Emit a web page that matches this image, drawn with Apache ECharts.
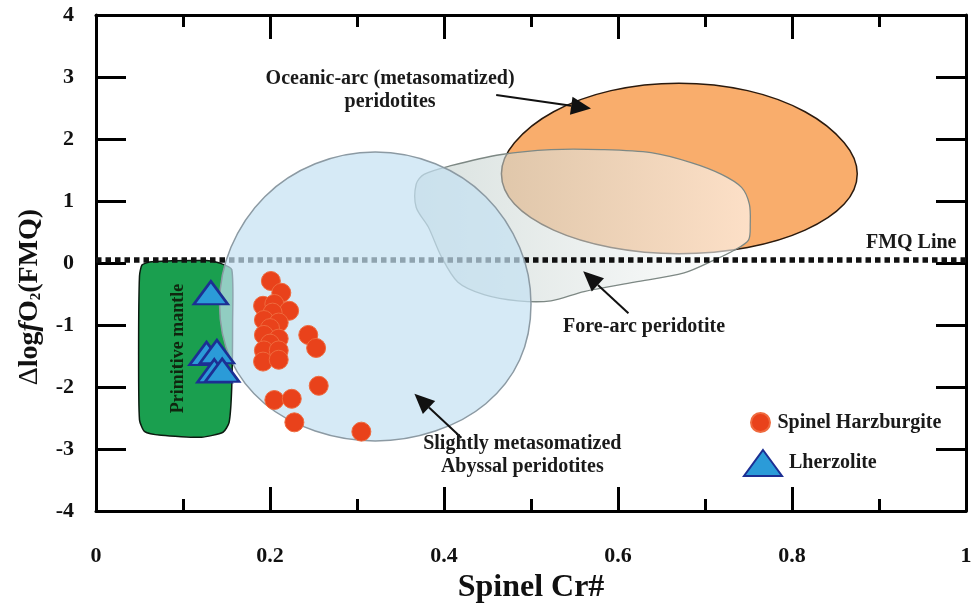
<!DOCTYPE html>
<html>
<head>
<meta charset="utf-8">
<script src="https://cdn.jsdelivr.net/npm/echarts/dist/echarts.min.js"></script>
<style>
html,body{margin:0;padding:0;background:#ffffff;}
#chart{width:977px;height:604px;}
</style>
</head>
<body>
<div id="chart"></div>
<script>
// ---------- data ----------
const xTicks = [0, 0.2, 0.4, 0.6, 0.8, 1];
const yTicks = [-4, -3, -2, -1, 0, 1, 2, 3, 4];

// Spinel Harzburgite samples [Cr#, ΔlogfO2]
const harzburgite = [
  [0.201,-0.29],[0.213,-0.48],[0.192,-0.69],[0.205,-0.66],[0.222,-0.77],[0.203,-0.80],
  [0.193,-0.92],[0.210,-0.96],[0.200,-1.05],[0.193,-1.16],[0.210,-1.22],[0.200,-1.30],
  [0.193,-1.41],[0.210,-1.41],[0.192,-1.59],[0.210,-1.56],[0.244,-1.16],[0.253,-1.37],
  [0.256,-1.98],[0.205,-2.21],[0.225,-2.19],[0.228,-2.57],[0.305,-2.72]
];
// Lherzolite samples
const lherzolite = [[0.132,-0.48],[0.127,-1.46],[0.139,-1.43],[0.136,-1.74],[0.145,-1.73]];

// Field outlines (vertices in data units)
const primitiveMantle = [
  [0.050,-0.21],[0.053,-0.03],[0.064,0.02],[0.127,0.04],[0.142,0.0],[0.156,-0.105],
  [0.157,-0.96],[0.156,-2.01],[0.153,-2.57],[0.146,-2.73],[0.121,-2.81],[0.075,-2.78],
  [0.056,-2.72],[0.050,-2.53],[0.049,-1.40]
];
const abyssalField = [
  [0.500,-0.66],[0.487,0.25],[0.448,1.07],[0.390,1.60],[0.321,1.79],[0.252,1.60],
  [0.194,1.07],[0.155,0.25],[0.142,-0.66],[0.155,-1.56],[0.194,-2.27],[0.252,-2.71],
  [0.321,-2.87],[0.390,-2.71],[0.448,-2.27],[0.487,-1.56]
];
const oceanicArcField = [
  [0.875,1.44],[0.860,1.94],[0.815,2.44],[0.749,2.78],[0.670,2.90],[0.592,2.78],
  [0.526,2.44],[0.481,1.94],[0.466,1.44],[0.481,0.95],[0.526,0.53],[0.592,0.25],
  [0.670,0.15],[0.749,0.25],[0.815,0.53],[0.860,0.95]
];
const foreArcField = [
  [0.377,1.43],[0.408,1.57],[0.466,1.75],[0.523,1.83],[0.581,1.83],[0.638,1.78],
  [0.684,1.62],[0.719,1.43],[0.742,1.22],[0.751,0.95],[0.752,0.63],[0.750,0.37],
  [0.734,0.21],[0.711,0.05],[0.676,-0.16],[0.619,-0.31],[0.561,-0.46],[0.523,-0.61],
  [0.485,-0.61],[0.446,-0.51],[0.416,-0.31],[0.397,0.10],[0.382,0.58],[0.368,0.90],
  [0.368,1.27]
];
// FMQ reference line
const fmqX = [0, 1];
const fmqY = [0.05, 0.05];

// Annotations
const noteTexts = ['Oceanic-arc (metasomatized)\nperidotites', 'Fore-arc peridotite',
  'Slightly metasomatized\nAbyssal peridotites', 'FMQ Line', 'Primitive mantle'];
const noteX = [0.338, 0.630, 0.490, 0.937, 0.095];
const noteY = [2.78, -1.03, -3.11, 0.33, -1.38];
const arrowFrom = [[0.460,2.71],[0.612,-0.81],[0.420,-2.82]];
const arrowTo = [[0.569,2.49],[0.560,-0.135],[0.366,-2.11]];

// ---------- chart ----------
const FONT = 'Liberation Serif';
const chart = echarts.init(document.getElementById('chart'), null, {renderer: 'canvas'});

function fieldSeries(name, verts, style, smooth, z) {
  return {
    type: 'custom', name: name, z: z, silent: true, clip: false,
    coordinateSystem: 'cartesian2d', xAxisIndex: 0, yAxisIndex: 0,
    data: verts, encode: {x: 0, y: 1},
    renderItem: function (params, api) {
      if (params.dataIndex !== 0) return null;
      const pts = verts.map(function (v) { return api.coord(v); });
      return {type: 'polygon', shape: {points: pts, smooth: smooth}, style: style};
    }
  };
}

const axisLineStyle = {color: '#000', width: 3};
const labelStyle = {fontSize: 22, fontWeight: 'bold', fontFamily: FONT, color: '#111'};

const option = {
  backgroundColor: '#ffffff',
  animation: false,
  grid: {left: 96, right: 11, top: 15, bottom: 93, containLabel: false, outerBoundsMode: 'none'},
  xAxis: [
    {
      type: 'value', min: 0, max: 1, interval: 0.2, position: 'bottom',
      axisLine: {show: true, onZero: false, lineStyle: axisLineStyle},
      axisTick: {show: true, inside: true, length: 24, lineStyle: {color: '#000', width: 3}},
      minorTick: {show: true, splitNumber: 2, length: 12, lineStyle: {color: '#000', width: 3}},
      splitLine: {show: false}, minorSplitLine: {show: false},
      axisLabel: Object.assign({margin: 34, showMinLabel: true, showMaxLabel: true,
        formatter: function (v) { return xTicks.indexOf(+v.toFixed(1)) >= 0 ? String(+v.toFixed(1)) : ''; }}, labelStyle),
      name: 'Spinel Cr#', nameLocation: 'middle', nameGap: 61,
      nameTextStyle: {fontSize: 32, fontWeight: 'bold', fontFamily: FONT, color: '#111'}
    },
    {
      type: 'value', min: 0, max: 1, interval: 0.2, position: 'top',
      axisLine: {show: true, onZero: false, lineStyle: axisLineStyle},
      axisTick: {show: true, inside: true, length: 24, lineStyle: {color: '#000', width: 3}},
      minorTick: {show: true, splitNumber: 2, length: 12, lineStyle: {color: '#000', width: 3}},
      splitLine: {show: false}, minorSplitLine: {show: false},
      axisLabel: {show: false}
    }
  ],
  yAxis: [
    {
      type: 'value', min: -4, max: 4, interval: 1, position: 'left',
      axisLine: {show: true, onZero: false, lineStyle: axisLineStyle},
      axisTick: {show: true, inside: true, length: 30, lineStyle: {color: '#000', width: 3}},
      splitLine: {show: false},
      axisLabel: Object.assign({margin: 22, showMinLabel: true, showMaxLabel: true,
        formatter: function (v) { return yTicks.indexOf(Math.round(v)) >= 0 ? String(Math.round(v)) : ''; }}, labelStyle),
      name: '{d|\u0394}{t|log}{f|f}{t|O}{s|2}{t|(FMQ)}',
      nameLocation: 'middle', nameRotate: 90, nameGap: 52,
      nameTextStyle: {
        padding: [0, 68, 0, 0],
        rich: {
          d: {fontSize: 28, fontWeight: 'normal', fontFamily: FONT, color: '#111'},
          t: {fontSize: 28, fontWeight: 'bold', fontFamily: FONT, color: '#111'},
          f: {fontSize: 28, fontWeight: 'bold', fontStyle: 'italic', fontFamily: FONT, color: '#111'},
          s: {fontSize: 15, fontWeight: 'bold', fontFamily: FONT, color: '#111', verticalAlign: 'bottom'}
        }
      }
    },
    {
      type: 'value', min: -4, max: 4, interval: 1, position: 'right',
      axisLine: {show: true, onZero: false, lineStyle: axisLineStyle},
      axisTick: {show: true, inside: true, length: 30, lineStyle: {color: '#000', width: 3}},
      splitLine: {show: false},
      axisLabel: {show: false}
    }
  ],
  legend: [
    {
      data: ['Spinel Harzburgite'], left: 745, top: 407, orient: 'vertical',
      itemWidth: 22, itemHeight: 19, selectedMode: false,
      textStyle: {fontSize: 20, fontWeight: 'bold', fontFamily: FONT, color: '#1a1a1a', padding: [0, 0, 0, 1]}
    },
    {
      data: ['Lherzolite'], left: 738, top: 444, orient: 'vertical',
      itemWidth: 38, itemHeight: 26, selectedMode: false,
      textStyle: {fontSize: 20, fontWeight: 'bold', fontFamily: FONT, color: '#1a1a1a', padding: [0, 0, 0, 2]}
    }
  ],
  series: [
    fieldSeries('Primitive mantle', primitiveMantle,
      {fill: '#1a9f4f', stroke: '#0b1a10', lineWidth: 1.5}, 0.2, 1),
    fieldSeries('Oceanic-arc', oceanicArcField,
      {fill: '#f9ad6c', stroke: '#2a1a0e', lineWidth: 1.5}, 0.35, 2),
    fieldSeries('Fore-arc', foreArcField,
      {fill: new echarts.graphic.LinearGradient(0, 0, 1, 0, [
        {offset: 0, color: 'rgba(190,204,200,0.58)'},
        {offset: 1, color: 'rgba(255,255,255,0.62)'}
      ]), stroke: '#7d8884', lineWidth: 1.3}, 0.3, 3),
    {
      type: 'line', name: 'FMQ', z: 4, silent: true, symbol: 'none',
      data: fmqX.map(function (x, i) { return [x, fmqY[i]]; }),
      lineStyle: {color: '#111', width: 5.5, type: [5.5, 4], cap: 'butt'}
    },
    fieldSeries('Abyssal', abyssalField,
      {fill: 'rgba(197,225,242,0.7)', stroke: '#8c9aa3', lineWidth: 1.5}, 0.35, 5),
    {
      type: 'custom', name: 'arrows', z: 6, silent: true, clip: false,
      data: arrowFrom.map(function (f, i) { return [f[0], f[1], arrowTo[i][0], arrowTo[i][1]]; }),
      encode: {x: [0, 2], y: [1, 3]},
      renderItem: function (params, api) {
        const p1 = api.coord([api.value(0), api.value(1)]);
        const p2 = api.coord([api.value(2), api.value(3)]);
        const dx = p2[0] - p1[0], dy = p2[1] - p1[1];
        const len = Math.sqrt(dx * dx + dy * dy);
        const ux = dx / len, uy = dy / len;
        const hl = 20, hw = 9;
        const bx = p2[0] - ux * hl, by = p2[1] - uy * hl;
        return {
          type: 'group',
          children: [
            {type: 'line', shape: {x1: p1[0], y1: p1[1], x2: bx, y2: by},
              style: {stroke: '#111', lineWidth: 2}},
            {type: 'polygon', shape: {points: [[p2[0], p2[1]], [bx - uy * hw, by + ux * hw], [bx + uy * hw, by - ux * hw]]},
              style: {fill: '#111'}}
          ]
        };
      }
    },
    {
      type: 'custom', name: 'notes', z: 6, silent: true, clip: false,
      data: noteTexts.map(function (t, i) { return [noteX[i], noteY[i]]; }),
      encode: {x: 0, y: 1},
      renderItem: function (params, api) {
        const i = params.dataIndex;
        const p = api.coord([api.value(0), api.value(1)]);
        const vertical = noteTexts[i] === 'Primitive mantle';
        return {
          type: 'text', x: p[0], y: p[1], rotation: vertical ? Math.PI / 2 : 0,
          style: {
            text: noteTexts[i], fill: vertical ? '#10260f' : '#1a1a1a',
            fontSize: vertical ? 18 : 20, fontWeight: 'bold', fontFamily: FONT,
            align: 'center', verticalAlign: 'middle', lineHeight: 23
          }
        };
      }
    },
    {
      type: 'scatter', name: 'Spinel Harzburgite', z: 7,
      data: harzburgite, symbol: 'circle', symbolSize: 19,
      itemStyle: {color: '#e9421b', borderColor: '#ef6a3e', borderWidth: 1, opacity: 1}
    },
    {
      type: 'scatter', name: 'Lherzolite', z: 8,
      data: lherzolite, symbol: 'triangle', symbolSize: [34, 23],
      itemStyle: {color: '#2b9bd8', borderColor: '#1c2f93', borderWidth: 2.5, opacity: 1}
    }
  ]
};
chart.setOption(option);
</script>
</body>
</html>
